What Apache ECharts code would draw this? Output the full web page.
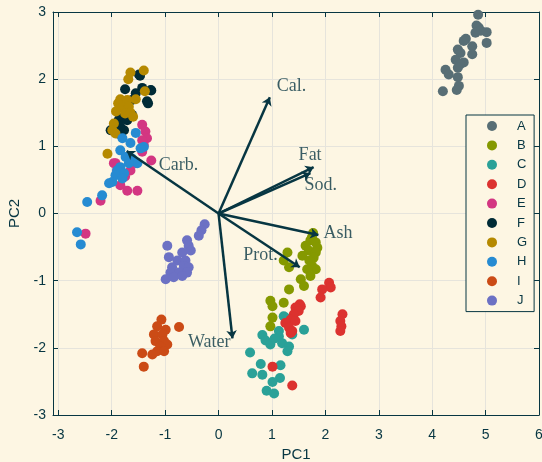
<!DOCTYPE html>
<html>
<head>
<meta charset="utf-8">
<script src="https://cdn.jsdelivr.net/npm/echarts/dist/echarts.min.js"></script>
<style>
  html, body { margin: 0; padding: 0; background: #fdf6e3; }
  #chart { width: 542px; height: 462px; }
</style>
</head>
<body>
<div id="chart"></div>
<script>
// PCA scores per group (PC1, PC2)
const A = [[4.86,2.96],[4.83,2.80],[4.87,2.77],[4.91,2.72],[5.02,2.70],[4.81,2.69],[5.02,2.54],[4.63,2.60],[4.59,2.57],[4.75,2.49],[4.48,2.44],[4.53,2.39],[4.75,2.37],[4.44,2.29],[4.59,2.25],[4.52,2.22],[4.48,2.17],[4.25,2.14],[4.31,2.07],[4.48,2.03],[4.50,1.90],[4.46,1.84],[4.20,1.82]];
const B = [[1.77,-0.29],[1.75,-0.35],[1.72,-0.40],[1.82,-0.43],[1.63,-0.48],[1.85,-0.51],[1.69,-0.55],[1.82,-0.58],[1.29,-0.58],[1.57,-0.63],[1.78,-0.66],[1.70,-0.70],[1.22,-0.70],[1.32,-0.80],[1.75,-0.78],[1.82,-0.83],[1.66,-0.83],[1.72,-0.93],[1.54,-0.98],[1.60,-1.08],[1.32,-1.13],[0.97,-1.30],[1.22,-1.33],[1.01,-1.38],[1.01,-1.55],[0.97,-1.68]];
const C = [[1.25,-1.55],[1.22,-1.53],[1.60,-1.73],[1.38,-1.80],[0.82,-1.81],[0.88,-1.89],[1.13,-1.83],[1.13,-1.75],[1.19,-1.93],[1.32,-1.98],[0.97,-1.95],[1.29,-2.05],[0.59,-2.07],[0.79,-2.24],[1.16,-2.26],[0.63,-2.38],[0.82,-2.40],[1.15,-2.45],[1.01,-2.51],[0.90,-2.64],[1.04,-2.68],[1.05,-1.86]];
const D = [[2.07,-1.03],[2.10,-1.10],[1.94,-1.13],[1.91,-1.25],[1.54,-1.38],[1.52,-1.35],[1.48,-1.42],[1.44,-1.40],[1.50,-1.45],[1.41,-1.50],[1.35,-1.58],[1.44,-1.60],[1.25,-1.63],[1.32,-1.70],[1.38,-1.75],[2.32,-1.50],[2.28,-1.60],[2.30,-1.68],[2.28,-1.75],[1.35,-1.78],[1.01,-2.28],[1.38,-2.56]];
const E = [[-1.43,1.32],[-1.37,1.22],[-1.34,1.12],[-1.40,1.02],[-1.43,0.92],[-1.55,0.75],[-1.93,0.75],[-1.90,0.64],[-1.65,0.64],[-1.84,0.42],[-1.71,0.34],[-1.52,0.34],[-2.21,0.19],[-2.49,-0.30],[-1.26,0.79],[-1.43,1.09],[-1.96,0.75],[-1.75,0.55]];
const F = [[-1.49,2.07],[-1.47,2.05],[-1.75,1.85],[-1.43,1.87],[-1.27,1.84],[-1.55,1.79],[-1.34,1.67],[-1.62,1.69],[-1.62,1.47],[-1.71,1.42],[-1.87,1.39],[-2.02,1.24],[-1.77,1.24],[-1.87,1.32],[-1.26,1.83],[-1.32,1.64],[-1.84,1.42],[-1.71,1.39],[-1.89,1.19],[-1.84,1.29]];
const G = [[-1.40,2.13],[-1.65,2.10],[-1.69,2.00],[-1.38,1.82],[-1.84,1.70],[-1.71,1.69],[-1.55,1.70],[-1.88,1.64],[-1.80,1.58],[-1.68,1.59],[-1.92,1.52],[-1.75,1.49],[-1.65,1.50],[-1.96,1.34],[-1.99,1.24],[-1.93,1.19],[-2.08,0.89],[-1.60,1.44]];
const H = [[-1.55,1.20],[-1.80,1.12],[-1.65,1.05],[-1.84,0.94],[-1.74,0.84],[-1.62,0.82],[-1.52,0.75],[-1.68,0.75],[-1.84,0.69],[-1.90,0.64],[-1.93,0.57],[-1.77,0.60],[-1.80,0.52],[-1.99,0.47],[-2.05,0.45],[-2.18,0.27],[-2.46,0.17],[-2.65,-0.28],[-2.58,-0.46],[-1.40,0.99],[-1.46,0.97]];
const I = [[-1.07,-1.58],[-1.15,-1.68],[-0.74,-1.69],[-0.99,-1.73],[-1.21,-1.80],[-1.05,-1.80],[-1.18,-1.90],[-1.02,-1.90],[-0.96,-1.95],[-1.09,-1.98],[-1.15,-2.05],[-1.02,-2.05],[-1.24,-2.10],[-1.43,-2.08],[-1.40,-2.28]];
const J = [[-0.26,-0.16],[-0.32,-0.25],[-0.37,-0.33],[-0.59,-0.40],[-0.56,-0.48],[-0.96,-0.48],[-0.68,-0.58],[-0.52,-0.55],[-0.93,-0.65],[-0.77,-0.70],[-0.62,-0.70],[-0.65,-0.78],[-0.87,-0.80],[-0.56,-0.80],[-0.90,-0.88],[-0.74,-0.88],[-0.59,-0.88],[-0.99,-0.98],[-0.84,-0.95],[-0.68,-0.93]];

const groupNames = ['A','B','C','D','E','F','G','H','I','J'];
const groupData = [A, B, C, D, E, F, G, H, I, J];

// Variable loadings (biplot arrows)
const loadingNames = ['Cal.', 'Fat', 'Sod.', 'Ash', 'Prot.', 'Water', 'Carb.'];
const loadingX = [0.96, 1.78, 1.72, 1.87, 1.52, 0.26, -1.72];
const loadingY = [1.73, 0.69, 0.60, -0.32, -0.80, -1.86, 0.93];

// Axis ticks
const xTicks = [-3, -2, -1, 0, 1, 2, 3, 4, 5, 6];
const yTicks = [-3, -2, -1, 0, 1, 2, 3];

// Styling
const palette = ['#586e75','#859900','#2aa198','#dc322f','#d33682','#002b36','#b58900','#268bd2','#cb4b16','#6c71c4'];
const ink = '#073642';
const gridColor = '#e6e4dc';
const serif = '"Liberation Serif", "Times New Roman", serif';
const sans = '"Liberation Sans", Arial, sans-serif';

// where each loading's label sits relative to its arrow tip
const labelPlacement = {
  'Cal.':  { offset: [7, -11],  align: 'left' },
  'Fat':   { offset: [-15, -12], align: 'left' },
  'Sod.':  { offset: [-6, 12],  align: 'left' },
  'Ash':   { offset: [5, -2],   align: 'left' },
  'Prot.': { offset: [-22, -12], align: 'right' },
  'Water': { offset: [-2, 4],   align: 'right' },
  'Carb.': { offset: [32, 14],  align: 'left' }
};

const axisLineStyle = { color: ink, width: 1 };

const chart = echarts.init(document.getElementById('chart'), null, { renderer: 'canvas' });

const scatterSeries = groupNames.map((name, i) => ({
  name: name,
  type: 'scatter',
  data: groupData[i],
  symbol: 'circle',
  symbolSize: 10,
  itemStyle: { color: palette[i], opacity: 1 },
  z: 2,
  silent: true
}));

const arrowSeries = {
  type: 'lines',
  coordinateSystem: 'cartesian2d',
  data: loadingNames.map((n, i) => ({ coords: [[0, 0], [loadingX[i], loadingY[i]]] })),
  symbol: ['none', 'arrow'],
  symbolSize: 8,
  lineStyle: { color: ink, width: 2.5, opacity: 1, curveness: 0 },
  z: 5,
  silent: true
};

const labelSeries = {
  type: 'scatter',
  data: loadingNames.map((n, i) => {
    const p = labelPlacement[n];
    return {
      value: [loadingX[i], loadingY[i]],
      label: {
        show: true,
        formatter: n,
        position: 'inside',
        align: p.align,
        verticalAlign: 'middle',
        offset: p.offset
      }
    };
  }),
  symbolSize: 0,
  itemStyle: { color: 'rgba(0,0,0,0)' },
  label: { color: ink, fontFamily: serif, fontSize: 18 },
  z: 6,
  silent: true
};

chart.setOption({
  animation: false,
  backgroundColor: '#fdf6e3',
  grid: { left: 53, right: 3, top: 12, bottom: 47, containLabel: false, outerBoundsMode: 'none' },
  legend: {
    data: groupNames,
    orient: 'vertical',
    left: 466,
    top: 115,
    icon: 'circle',
    itemWidth: 10,
    itemHeight: 10,
    itemGap: 5.4,
    padding: [4, 7, 4, 21],
    backgroundColor: '#fdf6e3',
    borderColor: ink,
    borderWidth: 1,
    textStyle: { color: ink, fontFamily: sans, fontSize: 13, lineHeight: 14, padding: [0, 0, 0, 15] }
  },
  xAxis: [
    {
      type: 'value', min: -3.1, max: 6, position: 'bottom',
      name: 'PC1', nameLocation: 'middle', nameGap: 32,
      nameTextStyle: { color: ink, fontFamily: sans, fontSize: 15 },
      axisLine: { show: true, onZero: false, lineStyle: axisLineStyle },
      axisTick: { show: true, inside: true, length: 5, customValues: xTicks, lineStyle: axisLineStyle },
      axisLabel: { customValues: xTicks, margin: 13, color: ink, fontFamily: sans, fontSize: 14 },
      splitLine: { show: true, lineStyle: { color: gridColor, width: 1 } }
    },
    {
      type: 'value', min: -3.1, max: 6, position: 'top',
      axisLine: { show: true, onZero: false, lineStyle: axisLineStyle },
      axisTick: { show: true, inside: true, length: 5, customValues: xTicks, lineStyle: axisLineStyle },
      axisLabel: { show: false },
      splitLine: { show: false }
    }
  ],
  yAxis: [
    {
      type: 'value', min: -3, max: 3, interval: 1, position: 'left',
      name: 'PC2', nameLocation: 'middle', nameGap: 26, nameRotate: 90,
      nameTextStyle: { color: ink, fontFamily: sans, fontSize: 15 },
      axisLine: { show: true, onZero: false, lineStyle: axisLineStyle },
      axisTick: { show: true, inside: true, length: 5, lineStyle: axisLineStyle },
      axisLabel: { margin: 7, color: ink, fontFamily: sans, fontSize: 14 },
      splitLine: { show: true, lineStyle: { color: gridColor, width: 1 } }
    },
    {
      type: 'value', min: -3, max: 3, interval: 1, position: 'right',
      axisLine: { show: true, onZero: false, lineStyle: axisLineStyle },
      axisTick: { show: true, inside: true, length: 5, lineStyle: axisLineStyle },
      axisLabel: { show: false },
      splitLine: { show: false }
    }
  ],
  series: [...scatterSeries, arrowSeries, labelSeries]
});
</script>
</body>
</html>
